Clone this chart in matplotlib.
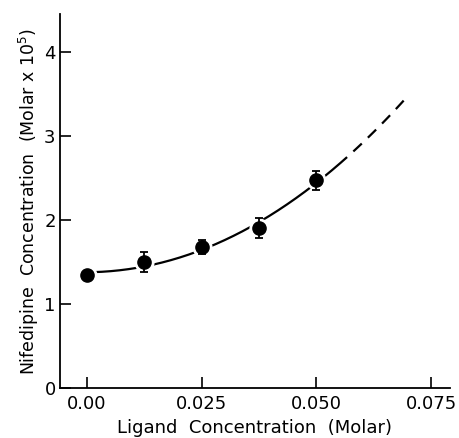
import numpy as np
import matplotlib
matplotlib.use("Agg")
import matplotlib.pyplot as plt

# Data
ligand = [0.0, 0.0125, 0.025, 0.0375, 0.05]
nifedipine = [1.35, 1.50, 1.68, 1.90, 2.47]
err = [0.0, 0.12, 0.08, 0.12, 0.11]

# Fitted curve (solid part, then dashed extrapolation)
curve_x = [0.0013, 0.0100, 0.0139, 0.0224, 0.0264, 0.0349, 0.0388, 0.0471, 0.0514, 0.0567]
curve_y = [1.369, 1.429, 1.476, 1.595, 1.679, 1.869, 2.000, 2.333, 2.510, 2.750]
dash_x = [0.0567, 0.0584, 0.0633, 0.0697]
dash_y = [2.750, 2.833, 3.100, 3.450]

xticks = [0.0, 0.025, 0.05, 0.075]
xticklabels = ["0.00", "0.025", "0.050", "0.075"]
yticks = [0, 1, 2, 3, 4]

plt.rcParams['font.family'] = ['DejaVu Sans']

fig = plt.figure(figsize=(4.6, 4.38), dpi=100)
ax = fig.add_axes([0.130, 0.114, 0.848, 0.854])

# smooth curve through read points
cx_all = np.array(curve_x + dash_x[1:])
cy_all = np.array(curve_y + dash_y[1:])
coef = np.polyfit(cx_all, cy_all, 3)
xs = np.linspace(curve_x[0], curve_x[-1], 200)
ax.plot(xs, np.polyval(coef, xs), color='black', lw=1.6, zorder=1,
        solid_capstyle='butt')
xd = np.linspace(dash_x[0], dash_x[-1], 100)
ax.plot(xd, np.polyval(coef, xd), color='black', lw=1.6, zorder=1,
        linestyle=(5.2, (5.2, 3.8)), dash_capstyle='butt')

# white halo to give gaps around markers
ax.plot(ligand, nifedipine, 'o', color='white', markersize=13.5, zorder=2)
ax.errorbar(ligand, nifedipine, yerr=err, fmt='o', color='black',
            markersize=9.5, capsize=3, elinewidth=1.3, capthick=1.3, zorder=3)

ax.set_xlim(-0.0059, 0.0791)
ax.set_ylim(0, 4.45)

ax.spines['top'].set_visible(False)
ax.spines['right'].set_visible(False)
ax.spines['left'].set_linewidth(1.3)
ax.spines['bottom'].set_linewidth(1.3)

ax.set_xticks(xticks)
ax.set_xticklabels(xticklabels)
ax.set_yticks(yticks)
ax.tick_params(axis='both', direction='in', length=8, width=1.2, labelsize=13)
ax.tick_params(axis='x', pad=5)
ax.tick_params(axis='y', pad=3)

ax.set_xlabel("Ligand  Concentration  (Molar)", fontsize=13, labelpad=4)
ax.set_ylabel("Nifedipine  Concentration  (Molar x 10$^5$)", fontsize=12.5, labelpad=2)

fig.savefig("out.png", dpi=100)
